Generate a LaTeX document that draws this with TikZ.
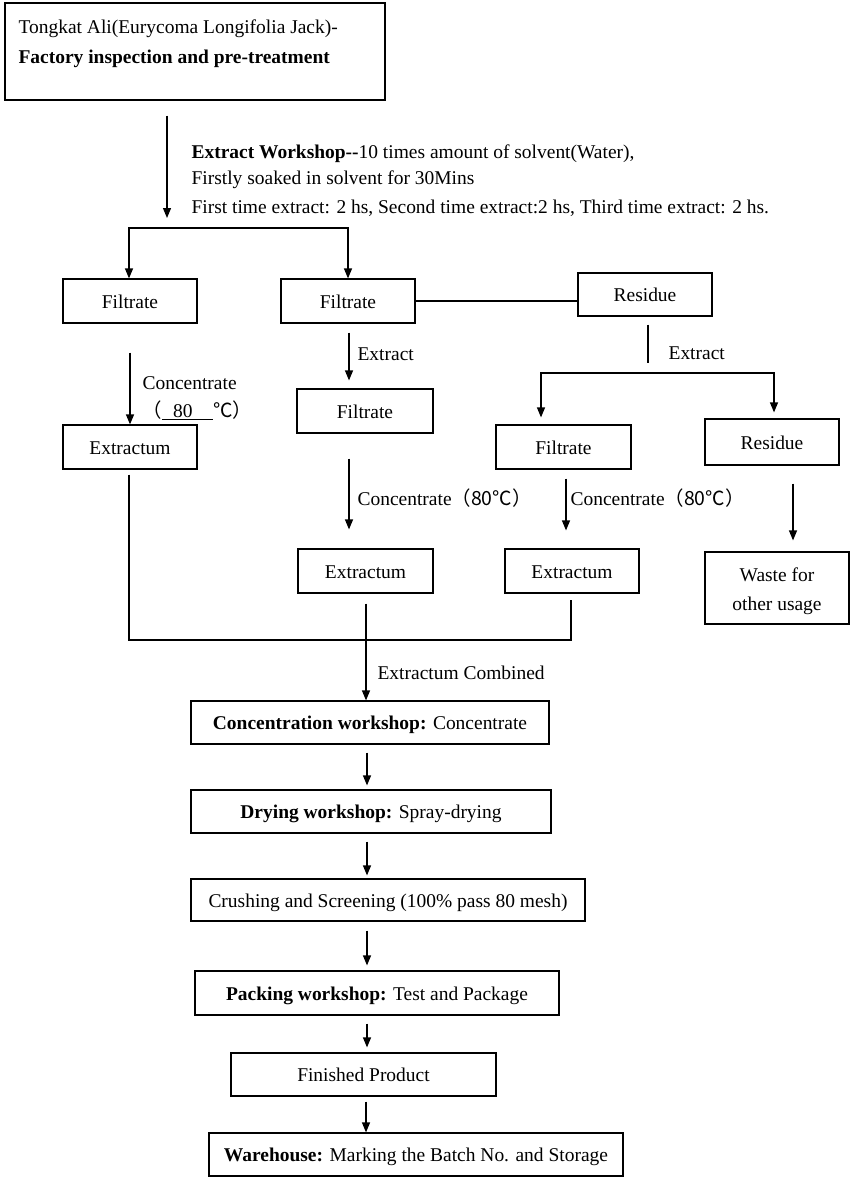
\documentclass[tikz,border=0pt]{standalone}
\usepackage{fontspec}
\setmainfont{Liberation Serif}
\newfontfamily\cjk{Noto Sans CJK SC}
\usetikzlibrary{arrows.meta,calc}
\begin{document}
\begin{tikzpicture}[x=0.75pt,y=-0.75pt,
  font=\fontsize{14.6}{17}\selectfont, line width=0.9pt,
  box/.style 2 args={draw, minimum width=#1*0.75pt, minimum height=#2*0.75pt, inner sep=0pt, align=center, text height=11pt, text depth=0pt},
  txt/.style={anchor=base west, inner sep=0pt},
  arr/.style={-{Triangle[length=7.5pt,width=6pt]}},
  arrtwo/.style={{Triangle[length=7.5pt,width=6pt]}-{Triangle[length=7.5pt,width=6pt]}}]
\useasboundingbox (0,0) rectangle (852,1182);
% top box
\node[box={380}{97}] (top) at (195,51.5) {};
\node[txt] (t1) at (18,33) {Tongkat Ali(Eurycoma Longifolia Jack)-};
\node[txt] (t2) at (18,63) {\textbf{Factory inspection and pre-treatment}};
% extract workshop text
\node[txt] (w1) at (191,158) {\textbf{Extract Workshop-{}-}10 times amount of solvent(Water),};
\node[txt] (w2) at (191,184) {Firstly soaked in solvent for 30Mins};
\node[txt] (w3) at (191,213) {First time extract: 2 hs, Second time extract:2 hs, Third time extract: 2 hs.};
% boxes
\node[box={134}{44}] (f1) at (130,301) {Filtrate};
\node[box={134}{44}] (f2) at (348,301) {Filtrate};
\node[box={134}{43}] (r1) at (645,294.5) {Residue};
\node[box={134}{44}] (e1) at (130,447) {Extractum};
\node[box={136}{44}] (fm) at (365,411) {Filtrate};
\node[box={135}{44}] (f3) at (563.5,447) {Filtrate};
\node[box={134}{46}] (r2) at (772,442) {Residue};
\node[box={135}{44}] (e2) at (365.5,571) {Extractum};
\node[box={134}{44}] (e3) at (572,571) {Extractum};
\node[box={144}{72}, font=\fontsize{14.6}{21.75}\selectfont, text height=33pt, text depth=0pt] (waste) at (777,588) {Waste for\\other usage};
\node[box={358}{43}] (conc) at (370,722.5) {\textbf{Concentration workshop:} Concentrate};
\node[box={360}{43}] (dry) at (371,811.5) {\textbf{Drying workshop:} Spray-drying};
\node[box={394}{42}] (crush) at (388,900) {Crushing and Screening (100\% pass 80 mesh)};
\node[box={364}{44}] (pack) at (377,993) {\textbf{Packing workshop:} Test and Package};
\node[box={265}{43}] (fin) at (363.5,1074.5) {Finished Product};
\node[box={414}{43}] (ware) at (416,1154.5) {\textbf{Warehouse:} Marking the Batch No. and Storage};
% top split
\coordinate (split) at (167,218);
\draw[arr] ($(top.south -| split)+(0,15)$) -- (split);
\coordinate (hl) at (129,228);
\coordinate (hr) at (348,228);
\draw[arrtwo] (hl |- f1.north) -- (hl) -- (hr) -- (hr |- f2.north);
% filtrate to residue
\draw (f2.east) -- (f2.east -| r1.west);
% residue branch
\coordinate (rj) at (648,373);
\coordinate (bl) at (541,373);
\coordinate (br) at (774,373);
\draw ($(r1.south -| rj)+(0,8)$) -- ($(rj)+(0,-10)$);
\draw[arrtwo] ($(bl |- f3.north)+(0,-7)$) -- (bl) -- (br) -- ($(br |- r2.north)+(0,-6)$);
\node[txt] (x2) at (668,359) {Extract};
% left column
\draw[arr] ($(f1.south)+(0,29)$) -- (e1.north);
\node[txt] (c1a) at (142,389) {Concentrate};
\node[txt] (c1b) at (142,417) {{\cjk （}\underline{\hspace{8.25pt}80\hspace{15.5pt}}{\cjk ℃）}};
% middle column
\coordinate (mx) at (349,0);
\draw[arr] ($(mx |- f2.south)+(0,9)$) -- ($(mx |- fm.north)+(0,-8)$);
\node[txt] (x1) at (357,360) {Extract};
\draw[arr] ($(mx |- fm.south)+(0,25)$) -- ($(mx |- e2.north)+(0,-19)$);
\node[txt] (c2) at (357,505) {Concentrate{\cjk （80℃）}};
% right column
\coordinate (rx) at (566,0);
\draw[arr] ($(rx |- f3.south)+(0,9)$) -- ($(rx |- e3.north)+(0,-18)$);
\node[txt] (c3) at (570,505) {Concentrate{\cjk （80℃）}};
\coordinate (wx) at (793,0);
\draw[arr] ($(wx |- r2.south)+(0,18)$) -- ($(wx |- waste.north)+(0,-11)$);
% combine
\coordinate (cm) at (366,640);
\coordinate (cl) at (129,640);
\coordinate (cr) at (571,640);
\draw ($(cl |- e1.south)+(0,5)$) -- (cl) -- (cr) -- ($(cr |- e3.south)+(0,6)$);
\draw ($(cm |- e2.south)+(0,10)$) -- (cm);
\draw[arr] (cm) -- (cm |- conc.north);
\node[txt] (ec) at (377,679) {Extractum Combined};
% chain
\coordinate (ax) at (367,0);
\draw[arr] ($(ax |- conc.south)+(0,8)$) -- ($(ax |- dry.north)+(0,-4)$);
\draw[arr] ($(ax |- dry.south)+(0,8)$) -- ($(ax |- crush.north)+(0,-3)$);
\draw[arr] ($(ax |- crush.south)+(0,9)$) -- ($(ax |- pack.north)+(0,-5)$);
\draw[arr] ($(ax |- pack.south)+(0,8)$) -- ($(ax |- fin.north)+(0,-5)$);
\coordinate (ax2) at (366,0);
\draw[arr] ($(ax2 |- fin.south)+(0,5)$) -- (ax2 |- ware.north);
\end{tikzpicture}
\end{document}
